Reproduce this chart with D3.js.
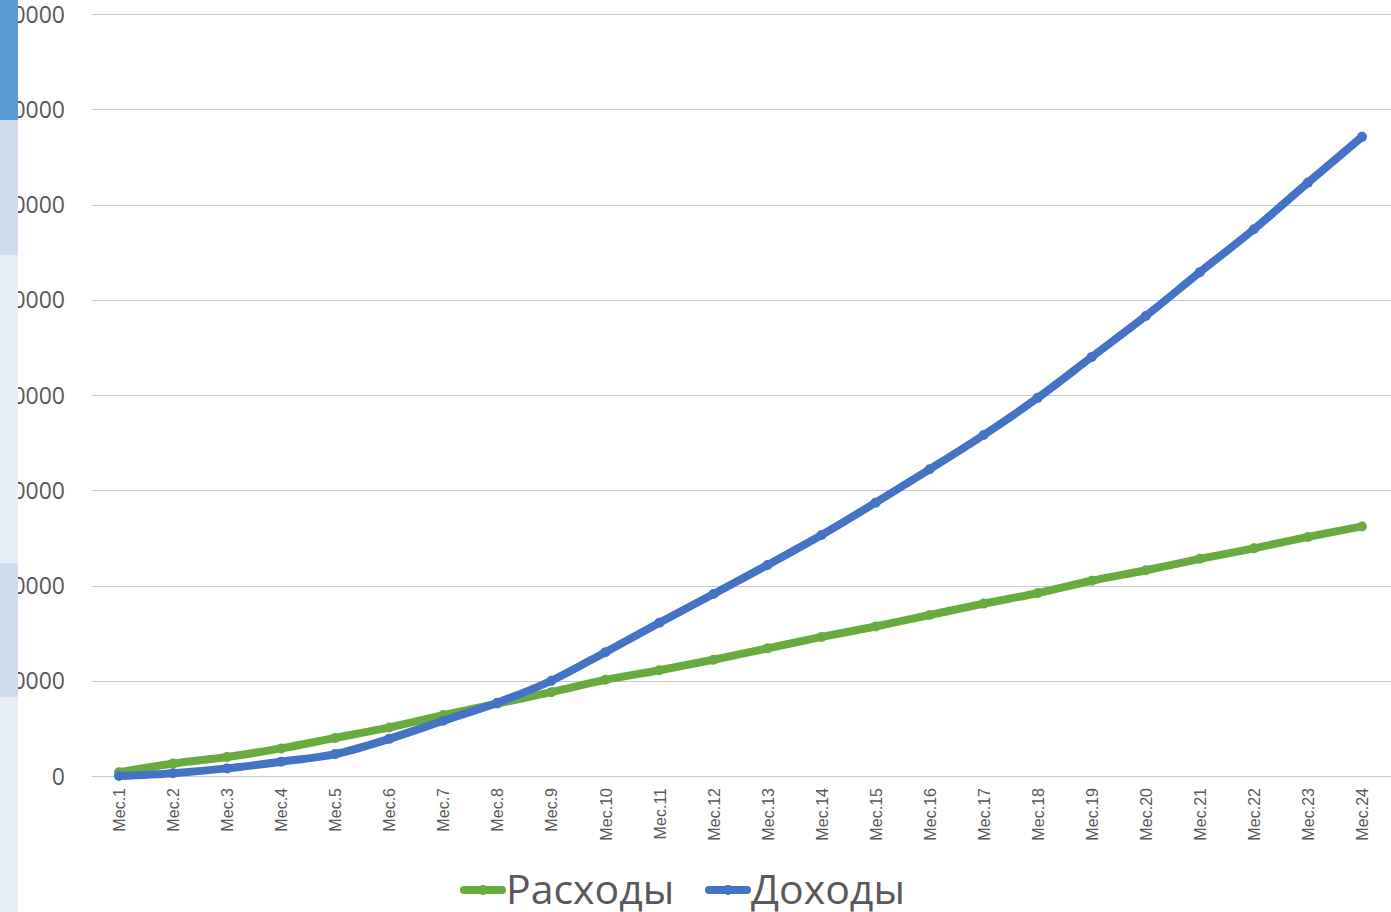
<!DOCTYPE html>
<html lang="ru">
<head>
	<meta charset="UTF-8">
	<title>Доходы и расходы</title>
	<style>
		body { margin: 0; background: #fff; overflow: hidden; }
		.grid line { stroke: #c8c8c8; stroke-width: 1.5; shape-rendering: crispEdges; }
		.yAxis text { font-family: "Open Sans", "Noto Sans", sans-serif; font-size: 23px; fill: #595959; }
		.xAxis text { font-family: "Liberation Sans", Arial, sans-serif; font-size: 16px; fill: #595959; }
		.legend text { font-family: "Open Sans", "Noto Sans", sans-serif; font-size: 41px; fill: #595959; }
	</style>
	<script src="https://d3js.org/d3.v7.min.js"></script>
</head>
<body>
	<script type="text/javascript">

		// months
		var months = d3.range(1, 25).map(function(i){ return "Мес." + i; });

		// series values
		var expenses = [400, 1300, 2000, 2900, 4000, 5100, 6400, 7600, 8800, 10100, 11100, 12200,
		                13400, 14600, 15700, 16900, 18100, 19200, 20500, 21600, 22800, 23900, 25100, 26200];
		var income   = [0, 300, 800, 1500, 2300, 3900, 5800, 7700, 10000, 13000, 16100, 19100,
		                22150, 25300, 28700, 32200, 35800, 39700, 44000, 48300, 52900, 57400, 62300, 67100];

		var yTicks = [0, 10000, 20000, 30000, 40000, 50000, 60000, 70000, 80000];

		var series = [
			{ name: "Расходы", values: expenses, color: "#6aab3f" },
			{ name: "Доходы",  values: income,   color: "#4472c4" }
		];

		// left strip blocks
		var stripBlocks = [
			{ y0: 0,   y1: 120, color: "#5b9bd5" },
			{ y0: 120, y1: 255, color: "#cfdcee" },
			{ y0: 255, y1: 563, color: "#e8eef7" },
			{ y0: 563, y1: 697, color: "#cfdcee" },
			{ y0: 697, y1: 912, color: "#e8eef7" }
		];

		const w = 1391,
			  h = 912;

		const svg = d3.select("body")
			.append("svg")
			.attr("width", w)
			.attr("height", h);

		var xScale = d3.scalePoint()
			.domain(months)
			.range([119, 1362]);

		var yScale = d3.scaleLinear()
			.domain([0, 80000])
			.range([776, 14]);

		// gridlines
		svg.append("g").attr("class", "grid")
			.selectAll("line")
			.data(yTicks).enter()
			.append("line")
			.attr("x1", 92).attr("x2", w)
			.attr("y1", function(d){ return Math.round(yScale(d)) + 0.5; })
			.attr("y2", function(d){ return Math.round(yScale(d)) + 0.5; });

		// y axis labels
		var yAxis = d3.axisLeft(yScale).tickValues(yTicks).tickSize(0).tickPadding(0)
			.tickFormat(d3.format("d"));
		svg.append("g")
			.attr("class", "yAxis")
			.attr("transform", "translate(65,0)")
			.call(yAxis)
			.call(function(g){ g.select(".domain").remove(); })
			.selectAll("text").attr("dy", "0.35em");

		// x axis labels
		var xAxis = d3.axisBottom(xScale).tickSize(0);
		svg.append("g")
			.attr("class", "xAxis")
			.attr("transform", "translate(0,776)")
			.call(xAxis)
			.call(function(g){ g.select(".domain").remove(); })
			.selectAll("text")
			.attr("transform", "rotate(-90)")
			.attr("text-anchor", "end")
			.attr("x", -12)
			.attr("y", 0)
			.attr("dy", "0.35em");

		var line = d3.line()
			.x(function(d, i){ return xScale(months[i]); })
			.y(function(d){ return yScale(d); })
			.curve(d3.curveMonotoneX);

		var sg = svg.append("g").selectAll("g")
			.data(series).enter()
			.append("g");

		sg.append("path")
			.attr("d", function(s){ return line(s.values); })
			.attr("fill", "none")
			.attr("stroke", function(s){ return s.color; })
			.attr("stroke-width", 8)
			.attr("stroke-linecap", "round")
			.attr("stroke-linejoin", "round");

		sg.selectAll("circle")
			.data(function(s){ return s.values.map(function(v, i){ return { v: v, i: i, color: s.color }; }); })
			.enter().append("circle")
			.attr("cx", function(d){ return xScale(months[d.i]); })
			.attr("cy", function(d){ return yScale(d.v); })
			.attr("r", 5)
			.attr("fill", function(d){ return d.color; });

		// legend
		var legendX = [460, 705];
		var lg = svg.append("g").attr("class", "legend")
			.selectAll("g")
			.data(series).enter()
			.append("g")
			.attr("transform", function(d, i){ return "translate(" + legendX[i] + ",890)"; });

		lg.append("line")
			.attr("x1", 4).attr("x2", 42)
			.attr("y1", 0).attr("y2", 0)
			.attr("stroke", function(d){ return d.color; })
			.attr("stroke-width", 8)
			.attr("stroke-linecap", "round");
		lg.append("circle")
			.attr("cx", 23).attr("cy", 0).attr("r", 5)
			.attr("fill", function(d){ return d.color; });
		lg.append("text")
			.attr("x", 46)
			.attr("y", 0)
			.attr("dy", "0.35em")
			.text(function(d){ return d.name; });

		// left coloured strip (covers the first digits of the labels)
		svg.append("g").selectAll("rect")
			.data(stripBlocks).enter()
			.append("rect")
			.attr("x", 0).attr("width", 18)
			.attr("y", function(d){ return d.y0; })
			.attr("height", function(d){ return d.y1 - d.y0; })
			.attr("fill", function(d){ return d.color; });

	</script>
</body>
</html>
